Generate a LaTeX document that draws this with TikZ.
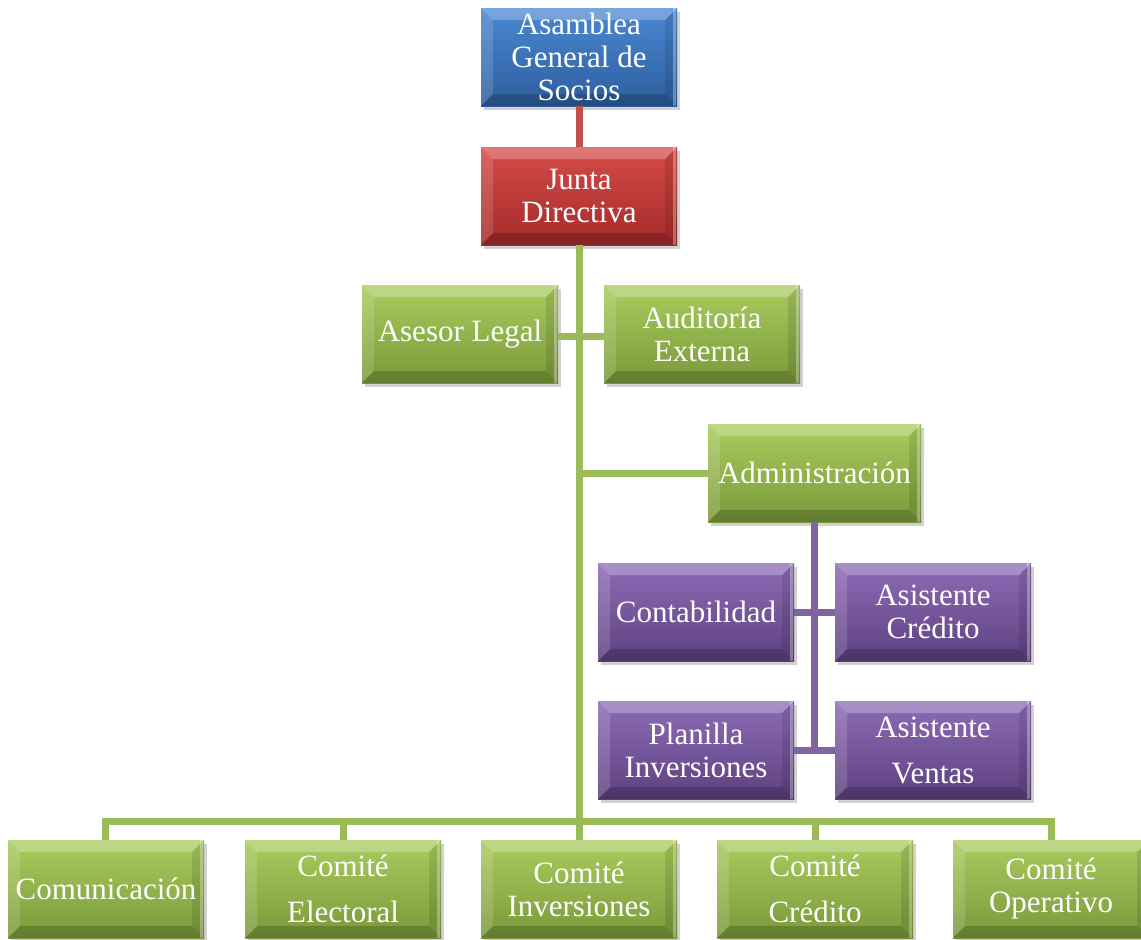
\documentclass[tikz,border=0pt]{standalone}
\usepackage{fontspec}
\setmainfont{Liberation Serif}
\usetikzlibrary{shadows}
\definecolor{blueT}{HTML}{4A88D2}
\definecolor{blueB}{HTML}{2D5E9E}
\definecolor{redT}{HTML}{D44B48}
\definecolor{redB}{HTML}{A52B2A}
\definecolor{greenT}{HTML}{A9CC5E}
\definecolor{greenB}{HTML}{7A993A}
\definecolor{purpT}{HTML}{8E6CB6}
\definecolor{purpB}{HTML}{5D4180}
\definecolor{lnGreen}{HTML}{9BBB59}
\definecolor{lnRed}{HTML}{C0504D}
\definecolor{lnPurp}{HTML}{8064A2}
\tikzset{
  orgbox/.style={rectangle, minimum width=196pt, minimum height=98pt, inner sep=0pt,
    align=center, text=white, font=\fontsize{31}{33}\selectfont,
    drop shadow={shadow xshift=3pt, shadow yshift=-4pt, opacity=0.3, fill=black!60},
    path picture={
      \fill[white,opacity=0.25] (path picture bounding box.north west) -- (path picture bounding box.north east)
        -- ([xshift=-12pt,yshift=-12pt]path picture bounding box.north east) -- ([xshift=12pt,yshift=-12pt]path picture bounding box.north west) -- cycle;
      \fill[white,opacity=0.14] (path picture bounding box.north west) -- ([xshift=12pt,yshift=-12pt]path picture bounding box.north west)
        -- ([xshift=12pt,yshift=12pt]path picture bounding box.south west) -- (path picture bounding box.south west) -- cycle;
      \fill[black,opacity=0.18] (path picture bounding box.south west) -- ([xshift=12pt,yshift=12pt]path picture bounding box.south west)
        -- ([xshift=-12pt,yshift=12pt]path picture bounding box.south east) -- (path picture bounding box.south east) -- cycle;
      \fill[black,opacity=0.10] (path picture bounding box.south east) -- ([xshift=-12pt,yshift=12pt]path picture bounding box.south east)
        -- ([xshift=-12pt,yshift=-12pt]path picture bounding box.north east) -- (path picture bounding box.north east) -- cycle;
      \fill[white,opacity=0.3] ([xshift=-4pt]path picture bounding box.north east) rectangle ([xshift=-1pt]path picture bounding box.south east);
    }},
  bluebox/.style={orgbox, top color=blueT, bottom color=blueB},
  redbox/.style={orgbox, top color=redT, bottom color=redB},
  greenbox/.style={orgbox, top color=greenT, bottom color=greenB},
  purpbox/.style={orgbox, top color=purpT, bottom color=purpB},
  gline/.style={draw=lnGreen, line width=7pt},
  rline/.style={draw=lnRed, line width=7pt},
  pline/.style={draw=lnPurp, line width=7pt}
}
\begin{document}
\begin{tikzpicture}[x=1pt,y=-1pt]
\useasboundingbox (0,0) rectangle (1141,940);
\coordinate (busL) at (105,821);
\coordinate (busR) at (1051,821);
\node[bluebox] (asam) at (579,57) {Asamblea\\General de\\Socios};
\node[redbox] (junta) at (579,196) {Junta\\Directiva};
\node[greenbox] (asesor) at (460,334) {Asesor Legal};
\node[greenbox] (aud) at (702,334) {Auditoría\\Externa};
\node[greenbox, minimum width=213pt] (admin) at (814.5,473) {Administración};
\node[purpbox] (cont) at (696,612) {Contabilidad};
\node[purpbox] (asc) at (933,612) {Asistente\\Crédito};
\node[purpbox] (plan) at (696,750) {Planilla\\Inversiones};
\node[purpbox] (asv) at (933,750) {Asistente\\[13pt]Ventas};
\node[greenbox] (com) at (106,889) {Comunicación};
\node[greenbox] (elec) at (343,889) {Comité\\[13pt]Electoral};
\node[greenbox] (inv) at (579,889) {Comité\\Inversiones};
\node[greenbox] (cred) at (815,889) {Comité\\[13pt]Crédito};
\node[greenbox] (oper) at (1051,889) {Comité\\Operativo};
\draw[rline] (asam.south) -- (junta.north);
\draw[gline] (junta.south) -- (junta.south |- busL);
\draw[gline] (asesor.east |- 0,336) -- (aud.west |- 0,336);
\draw[gline] (junta.south |- admin.west) -- (admin.west);
\draw[gline, line cap=rect] (busL) -- (busR);
\draw[gline] (busL) -- (com.north -| busL);
\draw[gline] (elec.north |- busL) -- (elec.north);
\draw[gline] (inv.north |- busL) -- (inv.north);
\draw[gline] (cred.north |- busL) -- (cred.north);
\draw[gline] (busR) -- (oper.north -| busR);
\draw[pline] (admin.south) -- (admin.south |- plan.east);
\draw[pline] (cont.east) -- (asc.west);
\draw[pline] (plan.east) -- (asv.west);
\end{tikzpicture}
\end{document}
